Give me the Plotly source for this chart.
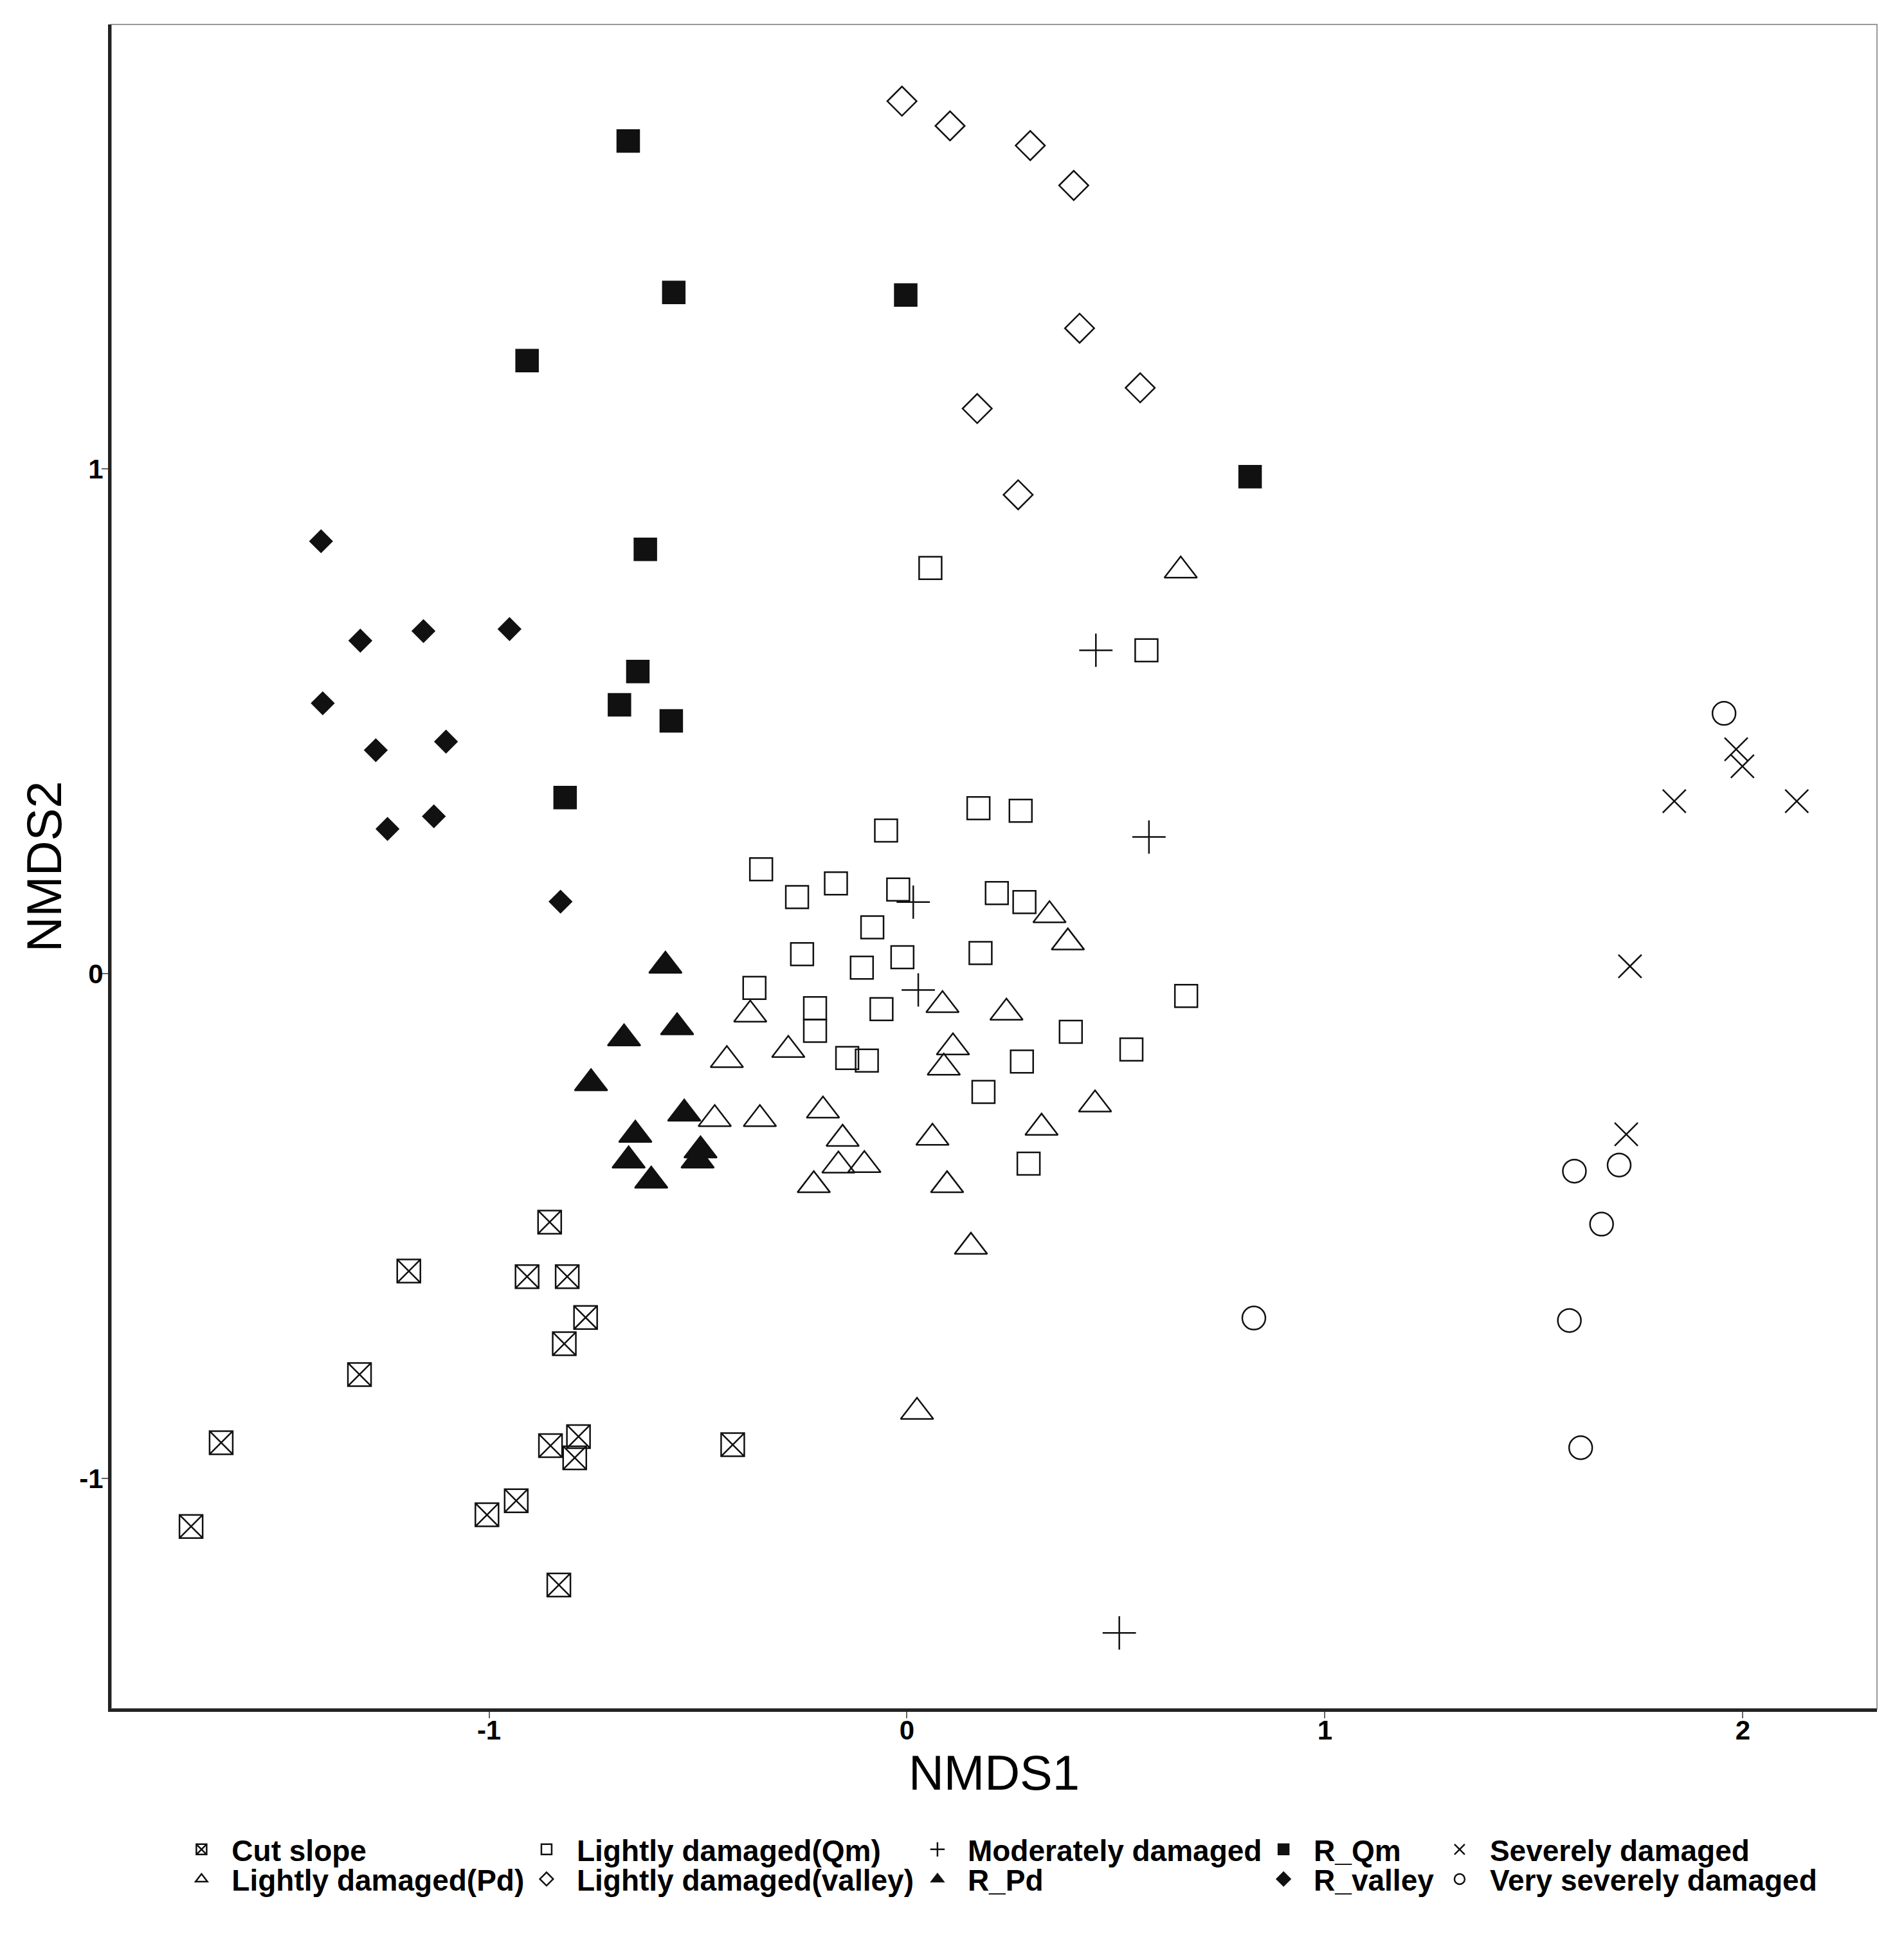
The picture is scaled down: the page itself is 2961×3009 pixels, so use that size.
import plotly.graph_objects as go

# NMDS scores, one pair of lists per group
cut_slope_x = [-0.855, -1.192, -0.909, -0.813, -0.769, -0.820, -1.310, -1.641,
               -0.853, -0.786, -0.795, -0.417, -0.935, -1.005, -1.713, -0.833]
cut_slope_y = [-0.492, -0.589, -0.600, -0.600, -0.681, -0.733, -0.794, -0.929,
               -0.935, -0.917, -0.959, -0.933, -1.044, -1.072, -1.095, -1.211]

ld_pd_x = [0.341, 0.385, -0.375, 0.085, 0.238, -0.284, -0.431, 0.110, 0.088, -0.460,
           -0.352, -0.201, 0.450, -0.154, 0.322, 0.061, -0.164, -0.102, -0.223, 0.096,
           0.153, 0.655, 0.024]
ld_pd_y = [0.116, 0.062, -0.081, -0.062, -0.077, -0.151, -0.171, -0.146, -0.186, -0.288,
           -0.288, -0.271, -0.259, -0.327, -0.305, -0.325, -0.380, -0.379, -0.419, -0.419,
           -0.541, 0.799, -0.868]

ld_qm_x = [0.056, 0.573, 0.171, 0.272, -0.050, -0.349, -0.263, -0.170, -0.021, 0.215,
           0.281, -0.083, -0.251, -0.011, 0.176, -0.108, -0.365, -0.220, -0.220, -0.061,
           0.668, 0.392, -0.143, -0.096, 0.275, 0.537, 0.183, 0.291]
ld_qm_y = [0.804, 0.641, 0.328, 0.323, 0.284, 0.207, 0.152, 0.179, 0.167, 0.160,
           0.142, 0.092, 0.039, 0.033, 0.041, 0.012, -0.028, -0.068, -0.113, -0.070,
           -0.044, -0.115, -0.167, -0.172, -0.174, -0.150, -0.234, -0.376]

ld_valley_x = [-0.012, 0.103, 0.295, 0.399, 0.413, 0.558, 0.168, 0.266]
ld_valley_y = [1.729, 1.680, 1.641, 1.562, 1.279, 1.161, 1.120, 0.949]

moderate_x = [0.452, 0.579, 0.015, 0.027, 0.508]
moderate_y = [0.641, 0.271, 0.142, -0.032, -1.306]

r_pd_x = [-0.578, -0.550, -0.677, -0.756, -0.533, -0.650, -0.494, -0.501, -0.666, -0.612]
r_pd_y = [0.016, -0.106, -0.128, -0.217, -0.277, -0.319, -0.350, -0.370, -0.370, -0.410]

r_qm_x = [-0.667, -0.558, -0.909, -0.003, 0.821, -0.626, -0.644, -0.688, -0.564, -0.818]
r_qm_y = [1.650, 1.350, 1.215, 1.345, 0.985, 0.841, 0.599, 0.533, 0.501, 0.349]

r_valley_x = [-1.402, -1.308, -1.157, -0.951, -1.398, -1.271, -1.103, -1.132, -1.243, -0.829]
r_valley_y = [0.857, 0.660, 0.679, 0.683, 0.536, 0.443, 0.460, 0.312, 0.287, 0.143]

severe_x = [1.984, 1.999, 1.836, 2.129, 1.730, 1.721]
severe_y = [0.445, 0.411, 0.342, 0.342, 0.015, -0.318]

very_severe_x = [1.955, 1.597, 1.704, 1.662, 0.830, 1.585, 1.612]
very_severe_y = [0.516, -0.391, -0.379, -0.496, -0.682, -0.687, -0.939]

x_ticks = [-1, 0, 1, 2]
x_ticktext = ["-1", "0", "1", "2"]
y_ticks = [-1, 0, 1]
y_ticktext = ["-1", "0", "1"]

groups = [
    ("Cut slope", cut_slope_x, cut_slope_y),
    ("Lightly damaged(Pd)", ld_pd_x, ld_pd_y),
    ("Lightly damaged(Qm)", ld_qm_x, ld_qm_y),
    ("Lightly damaged(valley)", ld_valley_x, ld_valley_y),
    ("Moderately damaged", moderate_x, moderate_y),
    ("R_Pd", r_pd_x, r_pd_y),
    ("R_Qm", r_qm_x, r_qm_y),
    ("R_valley", r_valley_x, r_valley_y),
    ("Severely damaged", severe_x, severe_y),
    ("Very severely damaged", very_severe_x, very_severe_y),
]

# marker styles (symbol, size) in the same order as groups
styles = [
    ("square-x-open", 36), ("triangle-up-open", 44), ("square-open", 35),
    ("diamond-open", 35), ("cross-thin-open", 37), ("triangle-up", 44),
    ("square", 34), ("diamond", 26), ("x-thin-open", 36), ("circle-open", 36),
]

# legend layout: 5 columns x 2 rows, one legend box per entry
legend_cols = [0.034, 0.2294, 0.4508, 0.6468, 0.7465]
legend_rows = [-0.0836, -0.1012]

FONT = "Liberation Sans, Arial, sans-serif"

fig = go.Figure()
layout_legends = {}
for i, ((name, xs, ys), (sym, size)) in enumerate(zip(groups, styles)):
    key = "legend" if i == 0 else "legend%d" % (i + 1)
    fig.add_trace(go.Scatter(
        x=xs, y=ys, mode="markers", name=name, legend=key,
        marker=dict(symbol=sym, size=size, color="#111",
                    line=dict(width=2.5, color="#111")),
    ))
    layout_legends[key] = dict(
        x=legend_cols[i // 2], y=legend_rows[i % 2],
        xanchor="left", yanchor="middle", orientation="v",
        itemwidth=84, bgcolor="rgba(0,0,0,0)",
        font=dict(family=FONT, size=46, color="black", weight="bold"),
    )

axis_common = dict(
    showgrid=False, zeroline=False, showline=True, linecolor="#222", linewidth=5,
    ticks="outside", ticklen=10, tickwidth=2, tickcolor="#666",
    tickfont=dict(family=FONT, size=42, color="black", weight="bold"),
)

# page body adds an 8px offset, so the figure is 8px smaller and margins shifted
fig.update_layout(
    width=2953, height=3001,
    margin=dict(l=165, r=42, t=30, b=352),
    paper_bgcolor="white", plot_bgcolor="white",
    showlegend=True,
    xaxis=dict(range=[-1.904, 2.321], tickvals=x_ticks, ticktext=x_ticktext,
               ticklabelstandoff=-17,
               title=dict(text="NMDS1", standoff=10,
                          font=dict(family=FONT, size=76, color="black")),
               **axis_common),
    yaxis=dict(range=[-1.456, 1.881], tickvals=y_ticks, ticktext=y_ticktext,
               ticklabelstandoff=-11,
               title=dict(text="NMDS2", standoff=4,
                          font=dict(family=FONT, size=76, color="black")),
               **axis_common),
    **layout_legends,
)

# thin grey panel border (top and right show; left/bottom covered by axis lines)
fig.add_shape(type="rect", xref="paper", yref="paper", x0=0, x1=1, y0=0, y1=1,
              line=dict(color="#999", width=2), layer="below")

fig.write_html("out.html")
